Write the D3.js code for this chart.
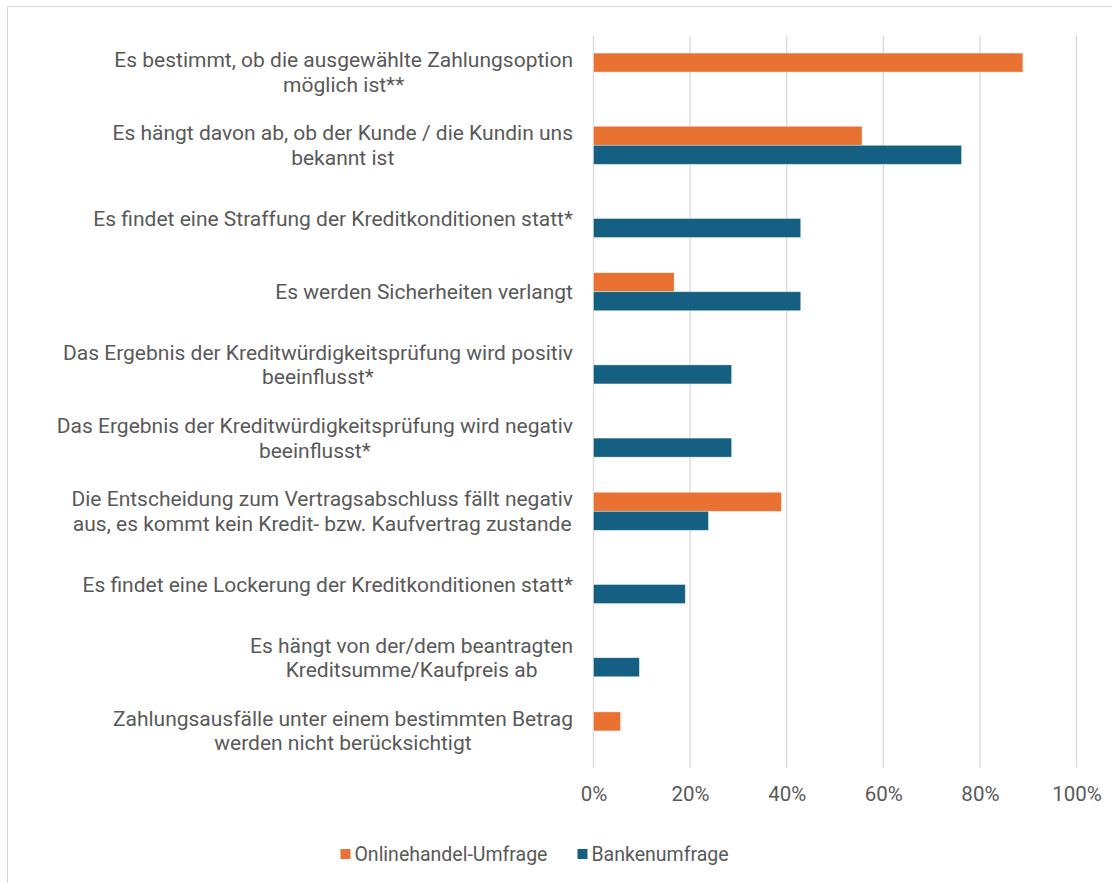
<!DOCTYPE html>
<html>
<head>
<meta charset="utf-8">
<script src="https://cdn.jsdelivr.net/npm/d3@7"></script>
<style>
  body { margin: 0; background: #fff; }
  svg text { font-family: Roboto, "Open Sans", sans-serif; fill: #595959; }
</style>
</head>
<body>
<div id="chart"></div>
<script>
// categories, already wrapped the way the picture shows them
var categories = [
  ["Es bestimmt, ob die ausgewählte Zahlungsoption", "möglich ist**"],
  ["Es hängt davon ab, ob der Kunde / die Kundin uns", "bekannt ist"],
  ["Es findet eine Straffung der Kreditkonditionen statt*"],
  ["Es werden Sicherheiten verlangt"],
  ["Das Ergebnis der Kreditwürdigkeitsprüfung wird positiv", "beeinflusst*"],
  ["Das Ergebnis der Kreditwürdigkeitsprüfung wird negativ", "beeinflusst*"],
  ["Die Entscheidung zum Vertragsabschluss fällt negativ", "aus, es kommt kein Kredit- bzw. Kaufvertrag zustande"],
  ["Es findet eine Lockerung der Kreditkonditionen statt*"],
  ["Es hängt von der/dem beantragten", "Kreditsumme/Kaufpreis ab"],
  ["Zahlungsausfälle unter einem bestimmten Betrag", "werden nicht berücksichtigt"]
];
var seriesNames = ["Onlinehandel-Umfrage", "Bankenumfrage"];
var onlineValues = [88.9, 55.6, null, 16.7, null, null, 38.9, null, null, 5.6];
var bankValues = [null, 76.2, 42.9, 42.9, 28.6, 28.6, 23.8, 19.0, 9.5, null];
var tickValues = [0, 20, 40, 60, 80, 100];
var colors = ["#E97132", "#156082"];

var width = 1112, height = 883;
var svg = d3.select("#chart").append("svg")
  .attr("width", width).attr("height", height);

// chart frame
svg.append("rect").attr("x", 7.5).attr("y", 6.5)
  .attr("width", width + 10).attr("height", height + 10)
  .attr("fill", "none").attr("stroke", "#d9d9d9");

var plotLeft = 593.5, plotRight = 1076.5, plotTop = 35.5, plotBottom = 767.5;

var x = d3.scaleLinear().domain([0, 100]).range([plotLeft, plotRight]);
var y = d3.scaleBand().domain(d3.range(categories.length))
  .range([plotTop, plotBottom]).paddingInner(0.48).paddingOuter(0.24);
var ySub = d3.scaleBand().domain([0, 1]).range([0, y.bandwidth()]);

// gridlines
svg.append("g").selectAll("line").data(tickValues).enter().append("line")
  .attr("x1", function(d) { return x(d); }).attr("x2", function(d) { return x(d); })
  .attr("y1", plotTop).attr("y2", plotBottom)
  .attr("stroke", "#d9d9d9").attr("stroke-width", 1.3);

// x axis labels
var xAxis = d3.axisBottom(x).tickValues(tickValues)
  .tickFormat(function(d) { return d + "%"; }).tickSize(0).tickPadding(0);
var axisG = svg.append("g").attr("transform", "translate(0," + plotBottom + ")").call(xAxis);
axisG.select(".domain").remove();
axisG.selectAll("text").attr("font-size", 20.5).attr("dy", null).attr("y", 33.5)
  .attr("font-family", null).style("fill", "#595959");

// bars
var allSeries = [onlineValues, bankValues];
allSeries.forEach(function(vals, s) {
  svg.append("g").selectAll("rect")
    .data(vals.map(function(v, i) { return {i: i, v: v}; }).filter(function(d) { return d.v != null; }))
    .enter().append("rect")
    .attr("x", x(0))
    .attr("y", function(d) { return y(d.i) + ySub(s); })
    .attr("width", function(d) { return x(d.v) - x(0); })
    .attr("height", ySub.bandwidth())
    .attr("fill", colors[s])
    .attr("stroke", "#fff").attr("stroke-opacity", 0.5).attr("stroke-width", 0.75);
});

// category labels, lines centred on each other, block right-aligned
var labelRight = 573, lineH = 24.5, labelSize = 21;
categories.forEach(function(lines, i) {
  var g = svg.append("g");
  var cy = y(i) + y.bandwidth() / 2;
  var t = g.selectAll("text").data(lines).enter().append("text")
    .attr("font-size", labelSize)
    .attr("text-anchor", "middle")
    .attr("y", function(d, k) { return cy + (k - (lines.length - 1) / 2) * lineH + 7.3; })
    .text(function(d) { return d; });
  var maxW = d3.max(t.nodes(), function(n) { return n.getComputedTextLength(); });
  t.attr("x", labelRight - maxW / 2);
});

// legend
var legend = svg.append("g");
var items = legend.selectAll("g").data(seriesNames).enter().append("g");
items.append("rect").attr("width", 10).attr("height", 10).attr("y", -10)
  .attr("fill", function(d, i) { return colors[i]; });
items.append("text").attr("x", 14).attr("y", 2).attr("font-size", 19.5).text(function(d) { return d; });
var lx = 0;
items.each(function() {
  d3.select(this).attr("transform", "translate(" + lx + ",0)");
  lx += this.getBBox().width + 30;
});
lx -= 30;
legend.attr("transform", "translate(" + (534.5 - lx / 2) + ",859)");
</script>
</body>
</html>
